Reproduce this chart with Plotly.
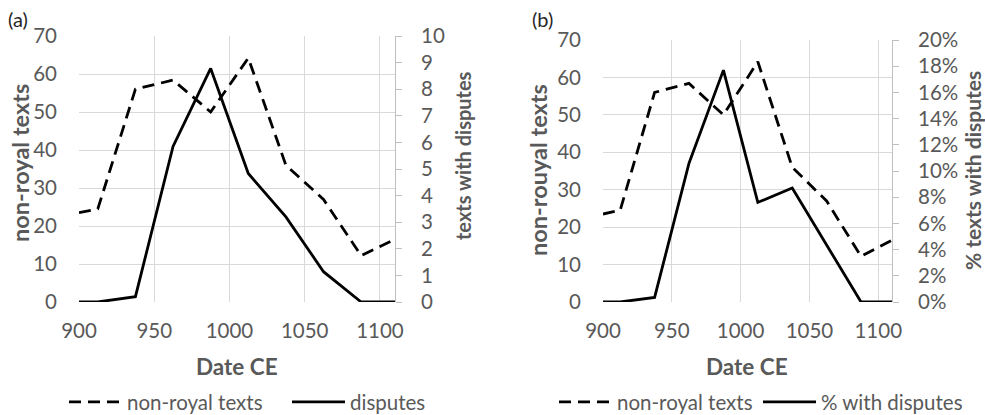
import plotly.graph_objects as go

# --- data -------------------------------------------------------------
years = [900, 912.5, 937.5, 962.5, 987.5, 1012.5, 1037.5, 1062.5, 1087.5, 1110]
non_royal_texts = [23.5, 24.5, 56.0, 58.4, 50.0, 64.2, 36.0, 27.0, 12.2, 16.5]
disputes = [0, 0, 0.2, 5.85, 8.78, 4.83, 3.2, 1.14, 0, 0]
pct_with_disputes = [0, 0, 0.35, 10.6, 17.7, 7.6, 8.7, 4.3, 0, 0]

x_ticks = [900, 950, 1000, 1050, 1100]

# --- styling ----------------------------------------------------------
W, H = 985, 415
FONT = "Lato"
GREY_TXT = "#595959"
GRID = "#d9d9d9"
AXLINE = "#bfbfbf"
TICK_SIZE = 20.5


def hx(px):
    return px / W


def vy(py):
    return 1 - py / H


dashed = dict(color="black", width=2.8, dash="12px,7px")
solid = dict(color="black", width=2.8)

fig = go.Figure()
fig.add_trace(go.Scatter(x=years, y=non_royal_texts, mode="lines", line=dashed,
                         name="non-royal texts", xaxis="x", yaxis="y", legend="legend"))
fig.add_trace(go.Scatter(x=years, y=disputes, mode="lines", line=solid,
                         name="disputes", xaxis="x", yaxis="y2", legend="legend2"))
fig.add_trace(go.Scatter(x=years, y=non_royal_texts, mode="lines", line=dashed,
                         name="non-royal texts", xaxis="x2", yaxis="y3", legend="legend3"))
fig.add_trace(go.Scatter(x=years, y=pct_with_disputes, mode="lines", line=solid,
                         name="% with disputes", xaxis="x2", yaxis="y4", legend="legend4"))

tickfont = dict(family=FONT, size=TICK_SIZE, color=GREY_TXT)


def x_axis(domain, anchor):
    return dict(domain=domain, anchor=anchor, range=[900, 1110], tickvals=x_ticks,
                showgrid=True, gridcolor=GRID, gridwidth=1, zeroline=False,
                showline=False, ticks="", tickfont=tickfont, ticklabelstandoff=14,
                fixedrange=True)


def left_axis(domain, anchor):
    return dict(domain=domain, anchor=anchor, range=[0, 70], dtick=10,
                showgrid=True, gridcolor=GRID, gridwidth=1, zeroline=False,
                showline=False, ticks="", tickfont=tickfont, ticklabelstandoff=21)


def right_axis(overlay, anchor, rng, dtick, suffix=""):
    return dict(overlaying=overlay, anchor=anchor, side="right", range=rng, dtick=dtick,
                ticksuffix=suffix, showgrid=False, zeroline=False, showline=True,
                linecolor=AXLINE, linewidth=1, ticks="outside", ticklen=6,
                tickcolor=AXLINE, tickfont=tickfont, ticklabelstandoff=15)


fig.update_layout(
    width=W, height=H, autosize=False,
    margin=dict(l=0, r=0, t=0, b=0, autoexpand=False),
    paper_bgcolor="white", plot_bgcolor="white",
    font=dict(family=FONT, color=GREY_TXT),
    showlegend=True,
    xaxis=x_axis([hx(79), hx(395)], "y"),
    yaxis=left_axis([vy(302), vy(36)], "x"),
    yaxis2=right_axis("y", "x", [0, 10], 1),
    xaxis2=x_axis([hx(603), hx(892)], "y3"),
    yaxis3=left_axis([vy(302), vy(40)], "x2"),
    yaxis4=right_axis("y3", "x2", [0, 20], 2, "%"),
)

legend_style = dict(orientation="h", xanchor="left", yanchor="middle",
                    bgcolor="rgba(0,0,0,0)", borderwidth=0, itemwidth=53,
                    font=dict(family=FONT, size=TICK_SIZE, color=GREY_TXT))
fig.update_layout(
    legend=dict(x=hx(64), y=vy(402), **legend_style),
    legend2=dict(x=hx(287), y=vy(402), **legend_style),
    legend3=dict(x=hx(554), y=vy(402), **legend_style),
    legend4=dict(x=hx(758), y=vy(402), **legend_style),
)


def label(text, x, y, size, angle=0, color=GREY_TXT):
    fig.add_annotation(text=text, x=hx(x), y=vy(y), xref="paper", yref="paper",
                       showarrow=False, textangle=angle, xanchor="center",
                       yanchor="middle", font=dict(family=FONT, size=size, color=color))


label("(a)", 18, 19, 20, color="#262626")
label("(b)", 542, 19, 20, color="#262626")
label("<b>non-royal texts</b>", 20, 163, 23.5, angle=-90)
label("<b>texts with disputes</b>", 463, 156, 20, angle=-90)
label("<b>non-rouyal texts</b>", 538, 170, 23.5, angle=-90)
label("<b>% texts with disputes</b>", 972, 171, 21, angle=-90)
label("<b>Date CE</b>", 237, 366, 22.5)
label("<b>Date CE</b>", 747, 366, 22.5)

fig.write_html("out.html")
